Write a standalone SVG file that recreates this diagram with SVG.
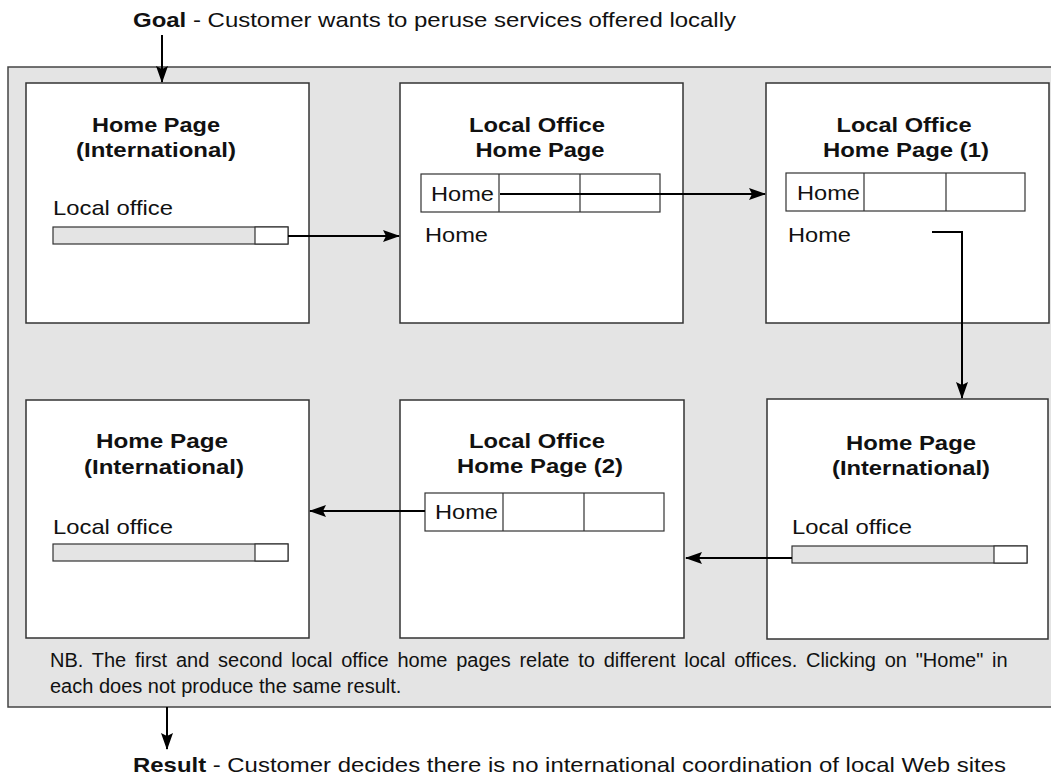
<svg xmlns="http://www.w3.org/2000/svg" width="1051" height="777" viewBox="0 0 1051 777">
  <style>
    text { font-family: "Liberation Sans", Arial, Helvetica, sans-serif; fill: #111; }
    .title { font-size: 21px; font-weight: bold; text-anchor: middle; }
    .label { font-size: 21px; }
    .note { font-size: 20px; }
    .head { font-size: 21px; }
    .page { fill: #ffffff; stroke: #333; stroke-width: 1.5; }
    .frame { fill: #e4e4e4; stroke: #444; stroke-width: 1.5; }
    .bar { fill: #e4e4e4; stroke: #333; stroke-width: 1.2; }
    .cell { fill: #ffffff; stroke: #333; stroke-width: 1.2; }
    .div { stroke: #333; stroke-width: 1.2; fill: none; }
    .link { fill: none; stroke: #000; stroke-width: 2; marker-end: url(#head); }
  </style>
  <defs>
    <marker id="head" markerUnits="userSpaceOnUse" markerWidth="17" markerHeight="12" viewBox="0 0 17 12" refX="16" refY="6" orient="auto">
      <path d="M0,0 L17,6 L0,12 L3,6 z" fill="#000"/>
    </marker>
  </defs>

  <rect width="1051" height="777" fill="#ffffff"/>

  <text class="head" x="133" y="27" textLength="603" lengthAdjust="spacingAndGlyphs"><tspan font-weight="bold">Goal</tspan> - Customer wants to peruse services offered locally</text>

  <!-- shaded scenario frame -->
  <rect id="frame" class="frame" x="8" y="67" width="1060" height="640"/>

  <!-- top row -->
  <g id="intl-home-1">
    <rect class="page" x="26" y="83" width="283" height="240"/>
    <text class="title" x="156" y="132" textLength="128" lengthAdjust="spacingAndGlyphs">Home Page</text>
    <text class="title" x="156" y="157" textLength="160" lengthAdjust="spacingAndGlyphs">(International)</text>
    <text class="label" x="53" y="215" textLength="120" lengthAdjust="spacingAndGlyphs">Local office</text>
    <rect class="bar" x="53" y="227" width="235" height="17"/>
    <rect class="cell" x="255" y="227" width="33" height="17"/>
  </g>

  <g id="local-home">
    <rect class="page" x="400" y="83" width="283" height="240"/>
    <text class="title" x="537" y="132" textLength="136" lengthAdjust="spacingAndGlyphs">Local Office</text>
    <text class="title" x="540" y="157" textLength="129" lengthAdjust="spacingAndGlyphs">Home Page</text>
    <rect class="cell" x="421" y="174" width="239" height="38"/>
    <path class="div" d="M499,174 V212 M580,174 V212"/>
    <text class="label" x="431" y="201" textLength="63" lengthAdjust="spacingAndGlyphs">Home</text>
    <text class="label" x="425" y="242" textLength="63" lengthAdjust="spacingAndGlyphs">Home</text>
  </g>

  <g id="local-home-1">
    <rect class="page" x="766" y="83" width="283" height="240"/>
    <text class="title" x="904" y="132" textLength="135" lengthAdjust="spacingAndGlyphs">Local Office</text>
    <text class="title" x="906" y="157" textLength="166" lengthAdjust="spacingAndGlyphs">Home Page (1)</text>
    <rect class="cell" x="786" y="173" width="239" height="38"/>
    <path class="div" d="M864,173 V211 M946,173 V211"/>
    <text class="label" x="797" y="200" textLength="63" lengthAdjust="spacingAndGlyphs">Home</text>
    <text class="label" x="788" y="242" textLength="63" lengthAdjust="spacingAndGlyphs">Home</text>
  </g>

  <!-- bottom row -->
  <g id="intl-home-3">
    <rect class="page" x="26" y="400" width="283" height="238"/>
    <text class="title" x="162" y="448" textLength="132" lengthAdjust="spacingAndGlyphs">Home Page</text>
    <text class="title" x="164" y="474" textLength="160" lengthAdjust="spacingAndGlyphs">(International)</text>
    <text class="label" x="53" y="534" textLength="120" lengthAdjust="spacingAndGlyphs">Local office</text>
    <rect class="bar" x="53" y="544" width="235" height="17"/>
    <rect class="cell" x="255" y="544" width="33" height="17"/>
  </g>

  <g id="local-home-2">
    <rect class="page" x="400" y="400" width="284" height="238"/>
    <text class="title" x="537" y="448" textLength="136" lengthAdjust="spacingAndGlyphs">Local Office</text>
    <text class="title" x="540" y="473" textLength="166" lengthAdjust="spacingAndGlyphs">Home Page (2)</text>
    <rect class="cell" x="425" y="493" width="239" height="38"/>
    <path class="div" d="M503,493 V531 M584,493 V531"/>
    <text class="label" x="435" y="519" textLength="63" lengthAdjust="spacingAndGlyphs">Home</text>
  </g>

  <g id="intl-home-2">
    <rect class="page" x="767" y="399" width="281" height="240"/>
    <text class="title" x="911" y="450" textLength="130" lengthAdjust="spacingAndGlyphs">Home Page</text>
    <text class="title" x="911" y="475" textLength="158" lengthAdjust="spacingAndGlyphs">(International)</text>
    <text class="label" x="792" y="534" textLength="120" lengthAdjust="spacingAndGlyphs">Local office</text>
    <rect class="bar" x="792" y="546" width="235" height="17"/>
    <rect class="cell" x="994" y="546" width="33" height="17"/>
  </g>

  <!-- justified note: first line spread to the full measure -->
  <text class="note" x="50" y="667" word-spacing="3.2">NB. The first and second local office home pages relate to different local offices. Clicking on "Home" in</text>
  <text class="note" x="50" y="693">each does not produce the same result.</text>

  <text class="head" x="133" y="772" textLength="873" lengthAdjust="spacingAndGlyphs"><tspan font-weight="bold">Result</tspan> - Customer decides there is no international coordination of local Web sites</text>

  <!-- navigation links -->
  <g id="connectors">
    <path class="link" d="M162,35 V82"/>
    <path class="link" d="M288,236 H399"/>
    <path class="link" d="M500,194 H765"/>
    <path class="link" d="M932,232 H962 V398"/>
    <path class="link" d="M792,558 H686"/>
    <path class="link" d="M425,511 H310"/>
    <path class="link" d="M167,707 V749"/>
  </g>
</svg>
